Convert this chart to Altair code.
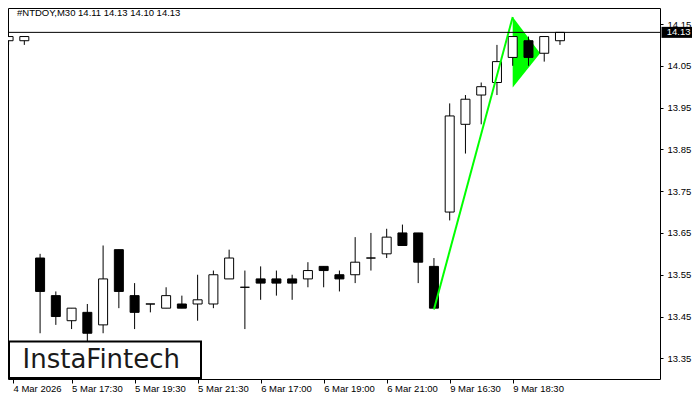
import altair as alt
import pandas as pd

symbol = "#NTDOY,M30"
# OHLC of the 36 visible M30 bars (index 0 = leftmost)
opens  = [14.11, 14.11, 13.59, 13.50, 13.44, 13.46, 13.43, 13.61, 13.50, 13.48,
          13.47, 13.48, 13.48, 13.48, 13.54, 13.52, 13.54, 13.54, 13.54, 13.54,
          13.57, 13.55, 13.55, 13.59, 13.60, 13.65, 13.65, 13.57, 13.70, 13.91,
          13.98, 14.01, 14.07, 14.11, 14.08, 14.11]
highs  = [14.12, 14.12, 13.60, 13.51, 13.47, 13.48, 13.62, 13.61, 13.53, 13.48,
          13.52, 13.50, 13.55, 13.56, 13.61, 13.56, 13.57, 13.56, 13.55, 13.58,
          13.57, 13.56, 13.64, 13.65, 13.66, 13.67, 13.65, 13.59, 13.96, 13.98,
          14.01, 14.10, 14.12, 14.12, 14.12, 14.13]
lows   = [14.10, 14.10, 13.41, 13.43, 13.42, 13.39, 13.41, 13.47, 13.42, 13.46,
          13.47, 13.47, 13.44, 13.47, 13.54, 13.42, 13.49, 13.50, 13.49, 13.52,
          13.52, 13.51, 13.53, 13.56, 13.59, 13.62, 13.53, 13.47, 13.68, 13.84,
          13.91, 13.98, 14.05, 14.05, 14.06, 14.10]
closes = [14.12, 14.12, 13.51, 13.45, 13.47, 13.41, 13.54, 13.51, 13.46, 13.48,
          13.50, 13.47, 13.49, 13.55, 13.59, 13.52, 13.53, 13.53, 13.53, 13.56,
          13.56, 13.54, 13.58, 13.59, 13.64, 13.62, 13.58, 13.47, 13.93, 13.97,
          14.00, 14.06, 14.12, 14.07, 14.12, 14.13]

tick_pos = [0, 4, 8, 12, 16, 20, 24, 28, 32]
tick_labels = ["4 Mar 2026", "5 Mar 17:30", "5 Mar 19:30", "5 Mar 21:30",
               "6 Mar 17:00", "6 Mar 19:00", "6 Mar 21:00", "9 Mar 16:30",
               "9 Mar 18:30"]
price_ticks = [13.35, 13.45, 13.55, 13.65, 13.75, 13.85, 13.95, 14.05, 14.15]

# bullish pennant: flagpole and pennant triangle
pole_x = [27, 32]
pole_y = [13.467, 14.167]
tri_x = [32, 33.74]
tri_top = [14.167, 14.080]
tri_bot = [13.998, 14.080]

last_price = closes[-1]
title_str = f"{symbol}  {opens[-1]:.2f} {highs[-1]:.2f} {lows[-1]:.2f} {closes[-1]:.2f}"

bars = pd.DataFrame({"i": list(range(len(opens))), "open": opens, "high": highs,
                     "low": lows, "close": closes})
pole = pd.DataFrame({"i": pole_x, "p": pole_y})
tri = pd.DataFrame({"i": tri_x, "top": tri_top, "bot": tri_bot})
last = pd.DataFrame({"p": [last_price], "t": [f"{last_price:.2f}"]})
one = pd.DataFrame({"a": [0]})

W, H = 652, 371
X_MIN, X_MAX = 0.28125, 41.03125
Y_MIN, Y_MAX = 13.3005, 14.1883
FONT = "Liberation Sans"
FS = 9.5

xs = alt.Scale(domain=[X_MIN, X_MAX], nice=False, zero=False)
ys = alt.Scale(domain=[Y_MIN, Y_MAX], nice=False, zero=False)

expr = "'" + tick_labels[0] + "'"
for v, l in reversed(list(zip(tick_pos[1:], tick_labels[1:]))):
    expr = f"datum.value == {v} ? '{l}' : " + expr

x_axis = alt.Axis(values=[X_MIN] + tick_pos[1:], labelExpr=expr, title=None,
                  grid=False, domain=False, tickSize=4, tickColor="black",
                  labelAlign="left", labelBaseline="alphabetic", labelPadding=8,
                  labelFont=FONT, labelFontSize=FS, labelColor="black",
                  labelOverlap=False, labelFlush=False)
y_axis = alt.Axis(values=price_ticks, format=".2f", title=None, orient="right",
                  grid=False, domain=False, tickSize=3, tickColor="black",
                  labelAlign="left", labelBaseline="middle", labelPadding=4,
                  labelFont=FONT, labelFontSize=FS, labelColor="black",
                  labelOverlap=False, labelFlush=False)


def X(field):
    return alt.X(field, type="quantitative", scale=xs, axis=x_axis)


def Y(field):
    return alt.Y(field, type="quantitative", scale=ys, axis=y_axis)


triangle = alt.Chart(tri).mark_area(color="#00ff00", opacity=1, clip=True).encode(
    x=X("i"), y=Y("top"), y2="bot:Q")

wicks = alt.Chart(bars).mark_rule(color="black", strokeWidth=1, clip=True).encode(
    x=X("i"), y=Y("low"), y2="high:Q")

bodies = alt.Chart(bars).mark_bar(width=9, stroke="black", strokeWidth=1,
                                  clip=True, opacity=1).encode(
    x=X("i"), y=Y("open"), y2="close:Q",
    fill=alt.condition("datum.close >= datum.open", alt.value("white"), alt.value("black")))

pole_line = alt.Chart(pole).mark_line(color="#00ff00", strokeWidth=2, clip=True).encode(
    x=X("i"), y=Y("p"))

price_line = alt.Chart(last).mark_rule(color="black", strokeWidth=1).encode(
    y=Y("p"))

tag_bg = alt.Chart(last).mark_rule(color="black", strokeWidth=11, strokeCap="butt").encode(
    x=alt.value(W + 1.5), x2=alt.value(W + 32), y=Y("p"))
tag_txt = alt.Chart(last).mark_text(color="white", font=FONT, fontSize=FS,
                                    align="left", baseline="middle").encode(
    x=alt.value(W + 6.7), y=Y("p"), text="t:N")

title = alt.Chart(one).mark_text(text=title_str, font=FONT, fontSize=FS, color="black",
                                 align="left", baseline="alphabetic").encode(
    x=alt.value(9), y=alt.value(7.7))

logo_box = alt.Chart(one).mark_rect(fill="white", stroke="black", strokeWidth=2).encode(
    x=alt.value(1), x2=alt.value(193), y=alt.value(333.5), y2=alt.value(370))
logo_txt = alt.Chart(one).mark_text(text="InstaFintech", font="DejaVu Sans", fontSize=26,
                                    color="#1a1a1a", align="left",
                                    baseline="alphabetic").encode(
    x=alt.value(14.5), y=alt.value(360.3))

chart = alt.layer(
    triangle, wicks, bodies, pole_line, price_line, tag_bg, tag_txt, title,
    logo_box, logo_txt
).properties(
    width=W, height=H,
    autosize=alt.AutoSizeParams(type="none"),
    padding={"left": 0, "top": 0, "right": 32, "bottom": 13},
    background="white",
).configure_view(stroke="black", strokeWidth=1)

chart.save("out.html", embed_options={"renderer": "svg", "actions": False})
